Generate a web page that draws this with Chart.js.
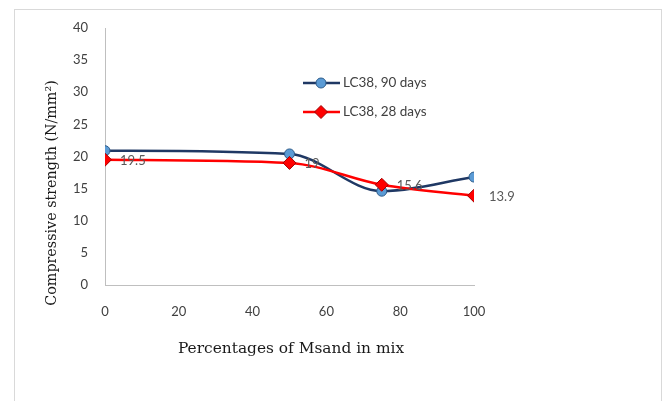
<!DOCTYPE html>
<html>
<head>
<meta charset="UTF-8">
<script src="https://cdn.jsdelivr.net/npm/chart.js"></script>
<style>
body { margin: 0; background: #fff; width: 667px; height: 401px; overflow: hidden; position: relative; }
.frame { position: absolute; left: 14px; top: 9px; width: 646px; height: 420px; border: 1px solid #d9d9d9; background: #fff; }
canvas { position: absolute; left: 0; top: 0; }
</style>
</head>
<body>
<div class="frame"></div>
<canvas id="c" width="667" height="401"></canvas>
<script>
// chart data
const msand = [0, 50, 75, 100];
const days90 = [20.9, 20.4, 14.6, 16.8];
const days28 = [19.5, 19, 15.6, 13.9];
const days28Labels = ['19.5', '19', '15.6', '13.9'];
const seriesNames = ['LC38, 90 days', 'LC38, 28 days'];
const xTicks = [0, 20, 40, 60, 80, 100];
const yTicks = [0, 5, 10, 15, 20, 25, 30, 35, 40];
const xTitle = 'Percentages of Msand in mix';
const yTitle = 'Compressive strength (N/mm\u00B2)';

const tickFont = { family: 'Lato', size: 13 };

// titles, legend and data labels
const extras = {
  id: 'extras',
  afterDatasetsDraw(chart) {
    const ctx = chart.ctx;
    // data labels on the 28 days series
    const meta = chart.getDatasetMeta(1);
    ctx.save();
    ctx.font = '13px Lato';
    ctx.fillStyle = '#595959';
    ctx.textBaseline = 'middle';
    ctx.textAlign = 'left';
    meta.data.forEach((p, i) => ctx.fillText(days28Labels[i], p.x + 15, p.y + 1));
    ctx.restore();
  },
  afterDraw(chart) {
    const ctx = chart.ctx;
    ctx.save();
    // axis titles
    ctx.fillStyle = '#1a1a1a';
    ctx.textAlign = 'center';
    ctx.textBaseline = 'middle';
    ctx.font = '15.4px "DejaVu Serif"';
    ctx.fillText(xTitle, 291, 349);
    ctx.font = '14.3px "DejaVu Serif"';
    ctx.translate(52, 193);
    ctx.rotate(-Math.PI / 2);
    ctx.fillText(yTitle, 0, 0);
    ctx.restore();

    // legend
    ctx.save();
    chart.data.datasets.forEach((ds, i) => {
      const y = 83 + i * 29;
      ctx.strokeStyle = ds.borderColor;
      ctx.lineWidth = ds.borderWidth;
      ctx.beginPath();
      ctx.moveTo(303, y);
      ctx.lineTo(340, y);
      ctx.stroke();
      ctx.fillStyle = ds.pointBackgroundColor;
      ctx.strokeStyle = ds.pointBorderColor;
      ctx.lineWidth = 1;
      Chart.helpers.drawPoint(ctx, { pointStyle: ds.pointStyle, radius: ds.pointRadius, rotation: 0, borderWidth: 1 }, 321, y);
      ctx.fillStyle = '#404040';
      ctx.font = '13.5px Lato';
      ctx.textAlign = 'left';
      ctx.textBaseline = 'middle';
      ctx.fillText(ds.label, 343, y);
    });
    ctx.restore();
  }
};

new Chart(document.getElementById('c'), {
  type: 'line',
  data: {
    datasets: [
      {
        label: seriesNames[0],
        data: msand.map((x, i) => ({ x: x, y: days90[i] })),
        borderColor: '#1F3864',
        borderWidth: 2.5,
        pointStyle: 'circle',
        pointRadius: 5,
        pointBackgroundColor: '#5B9BD5',
        pointBorderColor: '#2E5C8A',
        pointBorderWidth: 1,
        cubicInterpolationMode: 'monotone',
        order: 1
      },
      {
        label: seriesNames[1],
        data: msand.map((x, i) => ({ x: x, y: days28[i] })),
        borderColor: '#FF0000',
        borderWidth: 2.5,
        pointStyle: 'rectRot',
        pointRadius: 6.5,
        pointBackgroundColor: '#FF0000',
        pointBorderColor: '#A00000',
        pointBorderWidth: 1,
        cubicInterpolationMode: 'monotone',
        order: 0
      }
    ]
  },
  options: {
    responsive: false,
    animation: false,
    devicePixelRatio: 1,
    layout: { padding: { left: 0, top: 28, right: 193, bottom: 0 } },
    plugins: { legend: { display: false }, tooltip: { enabled: false } },
    scales: {
      x: {
        type: 'linear',
        min: 0,
        max: 100,
        afterBuildTicks: s => { s.ticks = xTicks.map(v => ({ value: v })); },
        afterFit: s => { s.height = 116; },
        grid: { display: false, drawTicks: false },
        border: { color: '#bfbfbf', width: 1 },
        ticks: { color: '#404040', font: tickFont, padding: 19, maxRotation: 0 }
      },
      y: {
        min: 0,
        max: 40,
        afterBuildTicks: s => { s.ticks = yTicks.map(v => ({ value: v })); },
        afterFit: s => { s.width = 105; },
        grid: { display: false, drawTicks: false },
        border: { color: '#bfbfbf', width: 1 },
        ticks: { color: '#404040', font: tickFont, padding: 17 }
      }
    }
  },
  plugins: [extras]
});
</script>
</body>
</html>
